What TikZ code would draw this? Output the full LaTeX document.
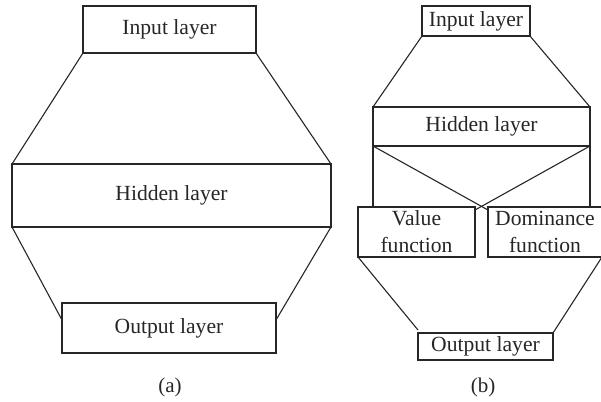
\documentclass[tikz,border=0pt]{standalone}
\usepackage{fontspec}
\setmainfont{Liberation Serif}
\usetikzlibrary{calc}
\begin{document}
\begin{tikzpicture}[x=0.5pt,y=-0.5pt,
  box/.style={draw=black!85,line width=0.55pt,inner sep=0pt,outer sep=0pt,
    text=black!85,font=\fontsize{10.8}{13.5}\selectfont,align=center},
  conn/.style={draw=black!85,line width=0.55pt},
  lbl/.style={text=black!85,font=\fontsize{10.5}{12}\selectfont}]
\useasboundingbox (0,0) rectangle (601,402);
% (a)
\node[box,minimum width=86.5pt,minimum height=23.5pt] (ia) at (169.5,29.5) {Input layer};
\node[box,minimum width=159.5pt,minimum height=31.5pt] (ha) at (171.5,195.5) {Hidden layer};
\node[box,minimum width=107pt,minimum height=25pt] (oa) at (169,328) {Output layer};
\draw[conn] (ia.south west) -- (ha.north west);
\draw[conn] (ia.south east) -- (ha.north east);
\draw[conn] (ha.south west) -- ($(oa.north west)!0.34!(oa.south west)$);
\draw[conn] (ha.south east) -- ($(oa.north east)!0.34!(oa.south east)$);
\node[lbl] (la) at (170,387) {(a)};
% (b)
\node[box,minimum width=54pt,minimum height=15pt] (ib) at (476,21) {Input layer};
\node[box,minimum width=108.5pt,minimum height=19.5pt] (hb) at (481.5,126.5) {Hidden layer};
\node[box,minimum width=58.5pt,minimum height=25pt] (vf) at (416.5,232) {Value\\function};
\node[box,minimum width=57pt,minimum height=25pt] (df) at (545,232) {Dominance\\function};
\node[box,minimum width=67.5pt,minimum height=13.5pt] (ob) at (485.5,346.5) {Output layer};
\draw[conn] (ib.south west) -- (hb.north west);
\draw[conn] (ib.south east) -- (hb.north east);
\draw[conn] (hb.south west) -- (hb.south west |- vf.north);
\draw[conn] (hb.south east) -- (hb.south east |- df.north);
\draw[conn] (hb.south west) -- ($(df.north west)+(0,3)$);
\draw[conn] (hb.south east) -- ($(vf.north east)+(0,3)$);
\draw[conn] (vf.south west) -- ($(ob.north west)+(0,-3)$);
\draw[conn] (df.south east) -- (ob.north east);
\node[lbl] (lb) at (483,387) {(b)};
\end{tikzpicture}
\end{document}
